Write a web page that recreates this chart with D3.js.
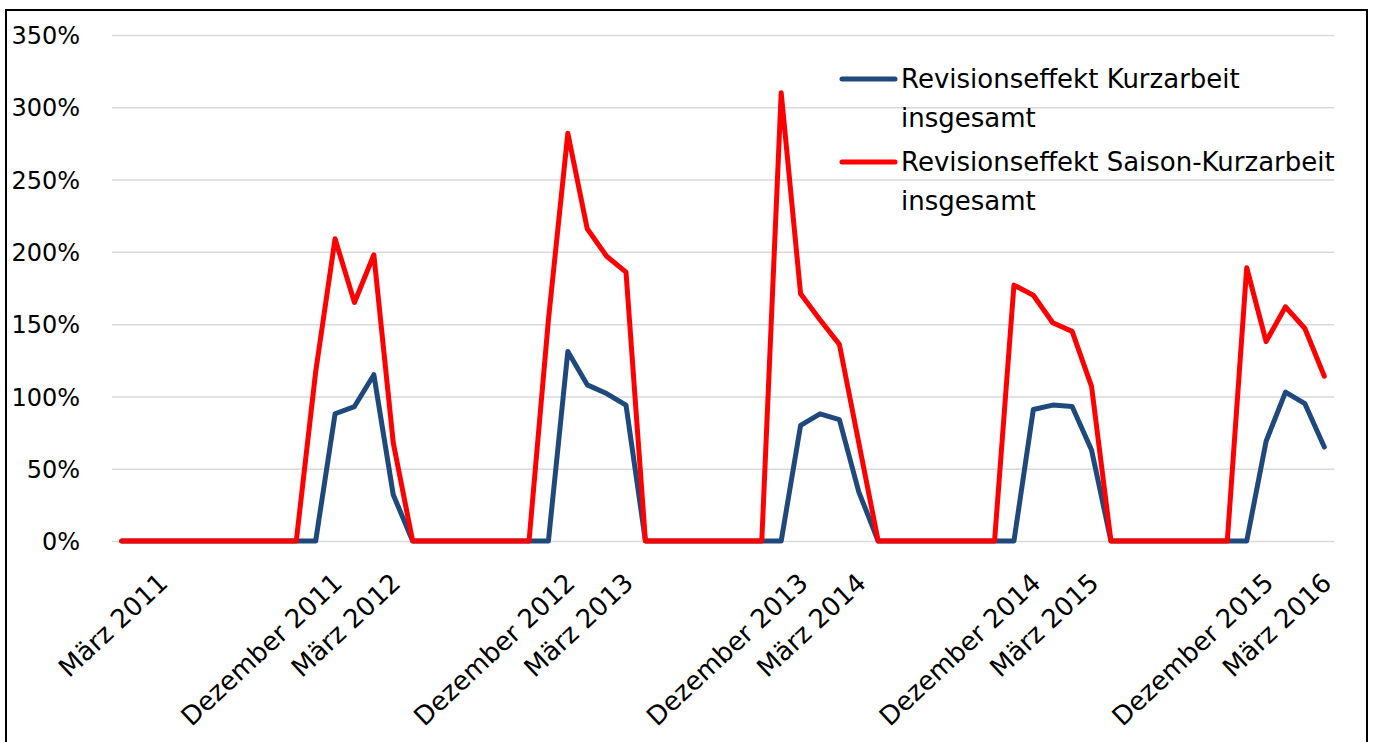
<!DOCTYPE html>
<html>
<head>
<meta charset="utf-8">
<script src="https://cdnjs.cloudflare.com/ajax/libs/d3/7.8.5/d3.min.js"></script>
<style>
body{margin:0;background:#fff;}
svg{display:block;}
text{font-family:"DejaVu Sans",sans-serif;fill:#000;}
</style>
</head>
<body>
<svg id="chart" width="1373" height="742"></svg>
<script>
// Monate Januar 2011 .. März 2016 (63 Werte)
var monatsNamen = ["Januar","Februar","März","April","Mai","Juni","Juli","August","September","Oktober","November","Dezember"];
var jahre = [2011,2012,2013,2014,2015,2016];
var kategorien = [];
jahre.forEach(function(j){
	monatsNamen.forEach(function(m){
		if(kategorien.length<63) kategorien.push(m+" "+j);
	});
});

// beschriftete Kategorien an der x-Achse
var xBeschriftung = ["März 2011","Dezember 2011","März 2012","Dezember 2012","März 2013",
	"Dezember 2013","März 2014","Dezember 2014","März 2015","Dezember 2015","März 2016"];

// Revisionseffekt Kurzarbeit insgesamt (in %)
var kurzarbeit = [0,0,0,0,0,0,0,0,0,0,
	0,88,93,115,32,
	0,0,0,0,0,0,0,0,
	131,108,102,94,
	0,0,0,0,0,0,0,0,
	80,88,84,34,
	0,0,0,0,0,0,0,0,
	91,94,93,63,
	0,0,0,0,0,0,0,0,
	69,103,95,65];

// Revisionseffekt Saison-Kurzarbeit insgesamt (in %)
var saisonKurzarbeit = [0,0,0,0,0,0,0,0,0,0,
	117,209,165,198,68,
	0,0,0,0,0,0,0,
	153,282,216,197,186,
	0,0,0,0,0,0,0,
	310,171,153,136,68,
	0,0,0,0,0,0,0,
	177,170,151,145,107,
	0,0,0,0,0,0,0,
	189,138,162,147,114];

var yTicks = [0,50,100,150,200,250,300,350];

var serien = [
	{name:["Revisionseffekt Kurzarbeit","insgesamt"], werte:kurzarbeit, farbe:"#1f497d"},
	{name:["Revisionseffekt Saison-Kurzarbeit","insgesamt"], werte:saisonKurzarbeit, farbe:"#ff0000"}
];

var svg = d3.select("#chart");
var links=112, rechts=1334, oben=35, unten=541;

// Rahmen
svg.append("rect")
	.attr("x",6).attr("y",10)
	.attr("width",1361).attr("height",760)
	.attr("fill","none").attr("stroke","#000").attr("stroke-width",2);

var x = d3.scalePoint().domain(kategorien).range([links,rechts]).padding(0.5);
var y = d3.scaleLinear().domain([0,350]).range([unten,oben]);

// Gitternetz
svg.append("g")
	.attr("transform","translate("+links+",0)")
	.call(d3.axisLeft(y).tickValues(yTicks).tickSize(-(rechts-links)).tickFormat(""))
	.call(function(g){
		g.select(".domain").remove();
		g.selectAll("line").attr("stroke","#d9d9d9").attr("stroke-width",1.5);
	});

// y-Achse Beschriftung
svg.append("g")
	.attr("transform","translate(80,0)")
	.call(d3.axisLeft(y).tickValues(yTicks).tickSize(0).tickPadding(0).tickFormat(function(d){return d+"%";}))
	.call(function(g){
		g.select(".domain").remove();
		g.selectAll("text").style("font-size","24px").attr("dy","0.36em");
	});

// x-Achse Beschriftung (gedreht)
svg.append("g")
	.attr("transform","translate(0,"+unten+")")
	.call(d3.axisBottom(x).tickValues(xBeschriftung).tickSize(0))
	.call(function(g){
		g.select(".domain").remove();
		g.selectAll("text")
			.style("font-size","26px")
			.attr("text-anchor","end")
			.attr("y",0).attr("dy","0.36em")
			.attr("transform","translate(2,37) rotate(-43)");
	});

// Linien
var linie = d3.line()
	.x(function(d,i){return x(kategorien[i]);})
	.y(function(d){return y(d);});

serien.forEach(function(s){
	svg.append("path")
		.datum(s.werte)
		.attr("d",linie)
		.attr("fill","none")
		.attr("stroke",s.farbe)
		.attr("stroke-width",5)
		.attr("stroke-linejoin","round")
		.attr("stroke-linecap","round");
});

// Legende
var leg = svg.append("g").attr("transform","translate(842,0)");
serien.forEach(function(s,i){
	var y0 = 79 + i*83;
	leg.append("line")
		.attr("x1",0).attr("x2",53).attr("y1",y0).attr("y2",y0)
		.attr("stroke",s.farbe).attr("stroke-width",5).attr("stroke-linecap","round");
	leg.append("text").attr("x",59).attr("y",y0+9).style("font-size","26px").text(s.name[0]);
	leg.append("text").attr("x",59).attr("y",y0+48).style("font-size","26px").text(s.name[1]);
});
</script>
</body>
</html>
